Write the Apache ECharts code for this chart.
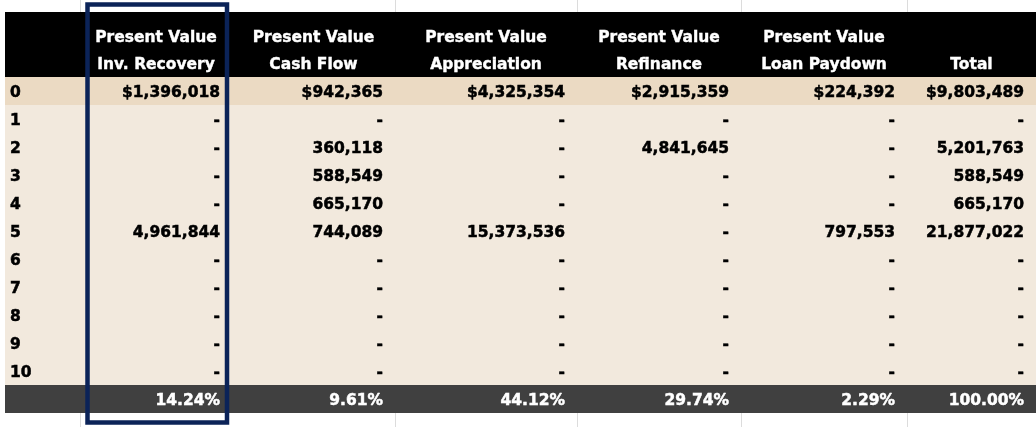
<!DOCTYPE html>
<html>
<head>
<meta charset="utf-8">
<script src="https://cdn.jsdelivr.net/npm/echarts@6/dist/echarts.min.js"></script>
<style>
  html, body { margin: 0; padding: 0; background: #fff; }
  #main { width: 1036px; height: 427px; }
</style>
</head>
<body>
<div id="main"></div>
<script>
// data
var years = ['0', '1', '2', '3', '4', '5', '6', '7', '8', '9', '10'];
var headerTop = ['Present Value', 'Present Value', 'Present Value', 'Present Value', 'Present Value', ''];
var headerBottom = ['Inv. Recovery', 'Cash Flow', 'Appreciation', 'Refinance', 'Loan Paydown', 'Total'];
var invRecovery  = [1396018, 0, 0, 0, 0, 4961844, 0, 0, 0, 0, 0];
var cashFlow     = [942365, 0, 360118, 588549, 665170, 744089, 0, 0, 0, 0, 0];
var appreciation = [4325354, 0, 0, 0, 0, 15373536, 0, 0, 0, 0, 0];
var refinance    = [2915359, 0, 4841645, 0, 0, 0, 0, 0, 0, 0, 0];
var loanPaydown  = [224392, 0, 0, 0, 0, 797553, 0, 0, 0, 0, 0];
var total        = [9803489, 0, 5201763, 588549, 665170, 21877022, 0, 0, 0, 0, 0];
var shares       = [14.24, 9.61, 44.12, 29.74, 2.29, 100.00];

var columns = [invRecovery, cashFlow, appreciation, refinance, loanPaydown, total];

// layout (axis units = pixels)
var colEdges = [5, 80, 232, 395, 577, 741, 907, 1036];
var FONT = '"DejaVu Sans", Verdana, sans-serif';

function fmt(v, r) {
  if (!v) return '-';
  var s = String(v).replace(/\B(?=(\d{3})+(?!\d))/g, ',');
  return r === 0 ? '$' + s : s;
}

var rowNames = years.concat(['share']);
var cells = [];
years.forEach(function (y, r) {
  cells.push([0, r, y]);
  columns.forEach(function (col, c) {
    cells.push([c + 1, r, fmt(col[r], r)]);
  });
});
shares.forEach(function (s, c) {
  cells.push([c + 1, years.length, s.toFixed(2) + '%']);
});

var chart = echarts.init(document.getElementById('main'));

function rowBg(params, api) {
  var r = api.value(1);
  var yc = api.coord([0, r])[1];
  var h = api.size([0, 1])[1];
  var x0 = api.coord([colEdges[0], r])[0];
  var x1 = api.coord([colEdges[colEdges.length - 1], r])[0];
  var fill = r === 0 ? '#ebdac3' : (r === years.length ? '#404040' : '#f2e9dd');
  return { type: 'rect', shape: { x: x0, y: yc - h / 2, width: x1 - x0, height: h }, style: { fill: fill } };
}

function cellText(params, api) {
  var cell = cells[params.dataIndex];
  var c = cell[0], r = cell[1];
  var y = api.coord([0, r])[1];
  var x, align;
  if (c === 0) {
    x = api.coord([colEdges[0], r])[0] + 5;
    align = 'left';
  } else {
    x = api.coord([colEdges[c + 1], r])[0] - 12;
    align = 'right';
  }
  var color = r === years.length ? '#ffffff' : '#000000';
  return {
    type: 'text',
    style: {
      text: cell[2], x: x, y: y + 2, align: align, verticalAlign: 'middle',
      fontFamily: FONT, fontSize: 15.5, fontWeight: 'bold',
      fill: color, stroke: color, lineWidth: 0.5
    }
  };
}

function headerBg(params, api) {
  var cs = params.coordSys;
  var x0 = api.coord([colEdges[0], 0])[0];
  var x1 = api.coord([colEdges[colEdges.length - 1], 0])[0];
  return { type: 'rect', shape: { x: x0, y: cs.y, width: x1 - x0, height: cs.height }, style: { fill: '#000000' } };
}

function headerText(params, api) {
  var c = api.value(0);
  var cs = params.coordSys;
  var xc = (api.coord([colEdges[c + 1], 0])[0] + api.coord([colEdges[c + 2], 0])[0]) / 2;
  var st = { fontFamily: FONT, fontSize: 15.5, fontWeight: 'bold', fill: '#ffffff', stroke: '#ffffff', lineWidth: 0.4, align: 'center', verticalAlign: 'middle' };
  return {
    type: 'group',
    children: [
      { type: 'text', style: Object.assign({ text: headerTop[c], x: xc, y: cs.y + 26 }, st) },
      { type: 'text', style: Object.assign({ text: headerBottom[c], x: xc, y: cs.y + 53 }, st) }
    ]
  };
}

var gridLines = [];
[colEdges[1], colEdges[3], colEdges[4], colEdges[5], colEdges[6]].forEach(function (x) {
  gridLines.push({ type: 'line', shape: { x1: x + 0.5, y1: 0, x2: x + 0.5, y2: 12 }, style: { stroke: '#dcdcdc', lineWidth: 1 } });
  gridLines.push({ type: 'line', shape: { x1: x + 0.5, y1: 413, x2: x + 0.5, y2: 427 }, style: { stroke: '#dcdcdc', lineWidth: 1 } });
});

chart.setOption({
  animation: false,
  backgroundColor: '#ffffff',
  grid: [
    { left: 0, right: 0, top: 12, height: 65 },
    { left: 0, right: 0, top: 77, height: 336 }
  ],
  xAxis: [
    { gridIndex: 0, type: 'value', min: 0, max: 1036, show: false },
    { gridIndex: 1, type: 'value', min: 0, max: 1036, show: false }
  ],
  yAxis: [
    { gridIndex: 0, type: 'value', min: 0, max: 1, show: false },
    { gridIndex: 1, type: 'category', data: rowNames, inverse: true, show: false }
  ],
  graphic: gridLines.concat([{
    type: 'rect', z: 100,
    shape: { x: 87.5, y: 4.5, width: 139.5, height: 418 },
    style: { fill: null, stroke: '#0b2358', lineWidth: 4.5 }
  }]),
  series: [
    { type: 'custom', xAxisIndex: 0, yAxisIndex: 0, data: [[0, 0]], renderItem: headerBg, silent: true },
    { type: 'custom', xAxisIndex: 0, yAxisIndex: 0, data: headerBottom.map(function (t, c) { return [c, 0.5]; }), renderItem: headerText, z: 3, silent: true },
    { type: 'custom', xAxisIndex: 1, yAxisIndex: 1, data: rowNames.map(function (n, r) { return [0, r]; }), renderItem: rowBg, silent: true },
    { type: 'custom', xAxisIndex: 1, yAxisIndex: 1, data: cells.map(function (c) { return [c[0], c[1]]; }), renderItem: cellText, z: 3, silent: true }
  ]
});
</script>
</body>
</html>
